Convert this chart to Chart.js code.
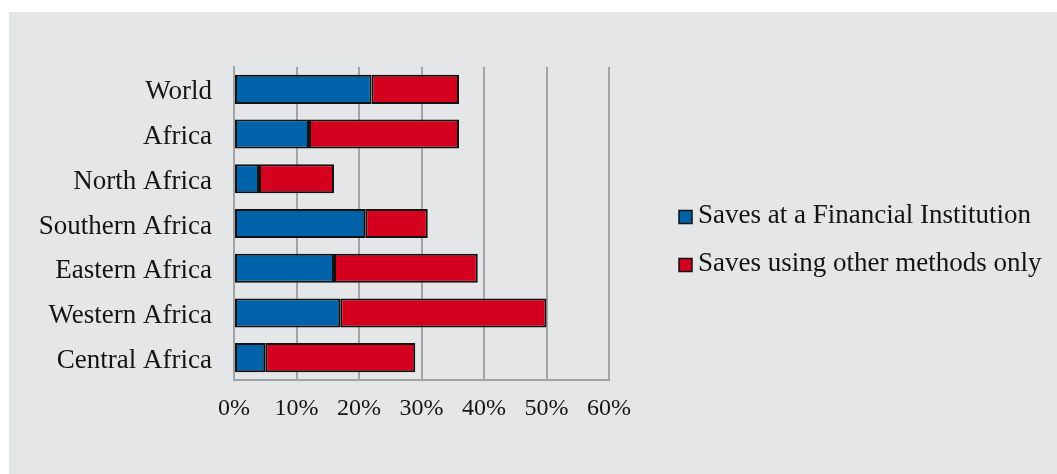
<!DOCTYPE html>
<html>
<head>
<meta charset="utf-8">
<script src="https://cdn.jsdelivr.net/npm/chart.js@4"></script>
<style>
  body { margin: 0; background: #ffffff; }
  #wrap { position: relative; width: 1057px; height: 474px; }
</style>
</head>
<body>
<div id="wrap"><canvas id="savingsChart"></canvas></div>
<script>
// regions, top to bottom
const regions = ['World', 'Africa', 'North Africa', 'Southern Africa', 'Eastern Africa', 'Western Africa', 'Central Africa'];
// % of adults
const financialInst = [22, 12, 4, 21, 16, 17, 5];
const otherMethodsOnly = [14, 24, 12, 10, 23, 33, 24];
const xTicks = [0, 10, 20, 30, 40, 50, 60];

const serif = "'Liberation Serif', 'Times New Roman', serif";
const gridGrey = '#a3a3a5';
const textCol = '#141414';

// grey panel behind the whole chart
const panelBg = {
  id: 'panelBg',
  beforeDraw(chart) {
    const ctx = chart.ctx;
    ctx.save();
    ctx.fillStyle = '#e5e6e8';
    ctx.fillRect(9, 12, chart.width - 9, chart.height - 12);
    ctx.restore();
  }
};

// legend on the right, built-in one gets squeezed too narrow there
const sideLegend = {
  id: 'sideLegend',
  afterDraw(chart) {
    const ctx = chart.ctx;
    ctx.save();
    ctx.font = '27px ' + serif;
    ctx.textBaseline = 'alphabetic';
    ctx.textAlign = 'left';
    chart.data.datasets.forEach((ds, i) => {
      const cy = 217 + i * 48;
      ctx.fillStyle = ds.backgroundColor;
      ctx.fillRect(679, cy - 6.5, 13, 13);
      ctx.lineWidth = 1.5;
      ctx.strokeStyle = '#111111';
      ctx.strokeRect(679, cy - 6.5, 13, 13);
      ctx.fillStyle = textCol;
      ctx.fillText(ds.label, 698, cy + 6);
    });
    ctx.restore();
  }
};

const ctx = document.getElementById('savingsChart').getContext('2d');
new Chart(ctx, {
  type: 'bar',
  data: {
    labels: regions,
    datasets: [
      {
        label: 'Saves at a Financial Institution',
        data: financialInst,
        backgroundColor: '#0063aa',
        borderColor: '#111111',
        borderWidth: 2,
        borderSkipped: false
      },
      {
        label: 'Saves using other methods only',
        data: otherMethodsOnly,
        backgroundColor: '#d3001e',
        borderColor: '#111111',
        borderWidth: 2,
        borderSkipped: false
      }
    ]
  },
  options: {
    indexAxis: 'y',
    responsive: true,
    maintainAspectRatio: false,
    animation: false,
    categoryPercentage: 1,
    barPercentage: 0.65,
    layout: { padding: { top: 67, bottom: 59, left: 0, right: 448 } },
    plugins: {
      legend: { display: false },
      tooltip: { enabled: false }
    },
    scales: {
      x: {
        stacked: true,
        min: 0,
        max: 60,
        afterBuildTicks(s) { s.ticks = xTicks.map(v => ({ value: v })); },
        afterFit(s) { s.height = 35; },
        ticks: {
          padding: 14,
          color: textCol,
          font: { family: serif, size: 24 },
          callback: v => v + '%'
        },
        grid: { color: gridGrey, lineWidth: 2, drawTicks: false },
        border: { display: true, color: gridGrey, width: 2 }
      },
      y: {
        stacked: true,
        afterFit(s) { s.width = 234; },
        ticks: {
          padding: 22,
          labelOffset: 3,
          color: textCol,
          font: { family: serif, size: 27 }
        },
        grid: { display: false, drawTicks: false },
        border: { display: true, color: gridGrey, width: 2 }
      }
    }
  },
  plugins: [panelBg, sideLegend]
});
</script>
</body>
</html>
